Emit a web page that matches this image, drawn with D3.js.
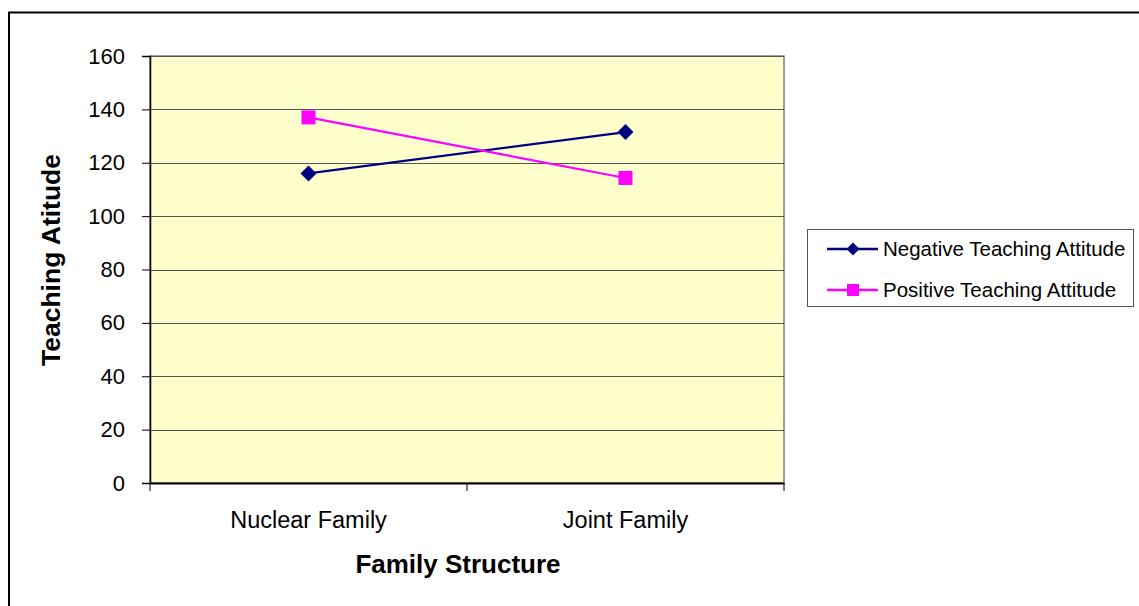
<!DOCTYPE html>
<html>
<head>
<meta charset="utf-8">
<script src="https://cdn.jsdelivr.net/npm/d3@7"></script>
<style>
  html, body { margin: 0; padding: 0; background: #fff; }
  svg { display: block; font-family: Arial, "Liberation Sans", sans-serif; }
</style>
</head>
<body>
<svg id="chart" width="1139" height="606"></svg>
<script>
// Chart data
const categories = ["Nuclear Family", "Joint Family"];
const negativeValues = [116, 131.5];
const positiveValues = [137, 114.3];
const yTicks = [0, 20, 40, 60, 80, 100, 120, 140, 160];
const seriesNames = ["Negative Teaching Attitude", "Positive Teaching Attitude"];

const FONT = "Arial, 'Liberation Sans', sans-serif";
const svg = d3.select("#chart");

// Outer chart frame (runs past the right and bottom edges)
svg.append("rect")
  .attr("x", 9).attr("y", 12.5)
  .attr("width", 1160).attr("height", 620)
  .attr("fill", "#fff").attr("stroke", "#000").attr("stroke-width", 2);

const plot = { left: 150, top: 56, right: 784, bottom: 483 };

const x = d3.scaleBand().domain(categories).range([plot.left, plot.right]);
const y = d3.scaleLinear().domain([0, 160]).range([plot.bottom, plot.top]);

// Plot area background
svg.append("rect")
  .attr("x", plot.left).attr("y", plot.top)
  .attr("width", plot.right - plot.left).attr("height", plot.bottom - plot.top)
  .attr("fill", "#FFFFCC").attr("stroke", "#808080").attr("stroke-width", 1.5);

// Horizontal gridlines
svg.append("g").selectAll("line")
  .data(yTicks.filter(d => d > 0))
  .join("line")
  .attr("x1", plot.left).attr("x2", plot.right)
  .attr("y1", d => Math.round(y(d)) + 0.5).attr("y2", d => Math.round(y(d)) + 0.5)
  .attr("stroke", "#555").attr("stroke-width", 1);

// Y axis
const yAxis = svg.append("g")
  .attr("transform", `translate(${plot.left},0)`)
  .call(d3.axisLeft(y).tickValues(yTicks).tickSize(8).tickPadding(17));
yAxis.attr("font-size", null).attr("font-family", null);
yAxis.select(".domain").attr("stroke", "#000").attr("stroke-width", 1.5);
yAxis.selectAll(".tick line").attr("stroke", "#000");
yAxis.selectAll("text")
  .style("font-size", "22px").style("font-family", FONT).attr("fill", "#000");

// X axis with ticks at band boundaries
const xAxis = svg.append("g")
  .attr("transform", `translate(0,${plot.bottom})`)
  .call(d3.axisBottom(x).tickSize(0).tickPadding(28));
xAxis.attr("font-size", null).attr("font-family", null);
xAxis.select(".domain").attr("stroke", "#000").attr("stroke-width", 2);
xAxis.selectAll("text")
  .style("font-size", "23.5px").style("font-family", FONT).attr("fill", "#000");
const bounds = [plot.left, ...categories.map(c => x(c) + x.bandwidth())];
xAxis.append("g").selectAll("line")
  .data(bounds)
  .join("line")
  .attr("x1", d => d).attr("x2", d => d)
  .attr("y1", 0).attr("y2", 8)
  .attr("stroke", "#000").attr("stroke-width", 1);

// Axis titles
svg.append("text")
  .attr("x", 458).attr("y", 573)
  .attr("text-anchor", "middle")
  .style("font-size", "26px").attr("font-weight", "bold")
  .text("Family Structure");
svg.append("text")
  .attr("transform", "translate(60,260) rotate(-90)")
  .attr("text-anchor", "middle")
  .style("font-size", "26.5px").attr("font-weight", "bold")
  .text("Teaching Atitude");

const cx = c => x(c) + x.bandwidth() / 2;
const line = d3.line().x((d, i) => cx(categories[i])).y(d => y(d));

const series = [
  { name: seriesNames[0], values: negativeValues, color: "#000080", marker: "diamond" },
  { name: seriesNames[1], values: positiveValues, color: "#FF00FF", marker: "square" }
];

function drawMarker(g, type, color, px, py) {
  if (type === "diamond") {
    g.append("path")
      .attr("d", `M${px},${py - 8}L${px + 8},${py}L${px},${py + 8}L${px - 8},${py}Z`)
      .attr("fill", color);
  } else {
    g.append("rect")
      .attr("x", px - 7).attr("y", py - 7)
      .attr("width", 14).attr("height", 14)
      .attr("fill", color);
  }
}

series.forEach(s => {
  const g = svg.append("g");
  g.append("path")
    .attr("d", line(s.values))
    .attr("fill", "none").attr("stroke", s.color).attr("stroke-width", 2.2);
  s.values.forEach((v, i) => drawMarker(g, s.marker, s.color, cx(categories[i]), y(v)));
});

// Legend
const legend = svg.append("g");
legend.append("rect")
  .attr("x", 807.5).attr("y", 229.5)
  .attr("width", 326).attr("height", 77)
  .attr("fill", "#fff").attr("stroke", "#555").attr("stroke-width", 1);
series.forEach((s, i) => {
  const ly = 249 + i * 41;
  legend.append("line")
    .attr("x1", 827).attr("x2", 878).attr("y1", ly).attr("y2", ly)
    .attr("stroke", s.color).attr("stroke-width", 2.5);
  if (s.marker === "diamond") {
    legend.append("path")
      .attr("d", `M853,${ly - 6.5}L859.5,${ly}L853,${ly + 6.5}L846.5,${ly}Z`)
      .attr("fill", s.color);
  } else {
    legend.append("rect")
      .attr("x", 847).attr("y", ly - 6).attr("width", 12).attr("height", 12)
      .attr("fill", s.color);
  }
  legend.append("text")
    .attr("x", 883).attr("y", ly + 7)
    .style("font-size", "20.5px").attr("fill", "#000")
    .text(s.name);
});
</script>
</body>
</html>
